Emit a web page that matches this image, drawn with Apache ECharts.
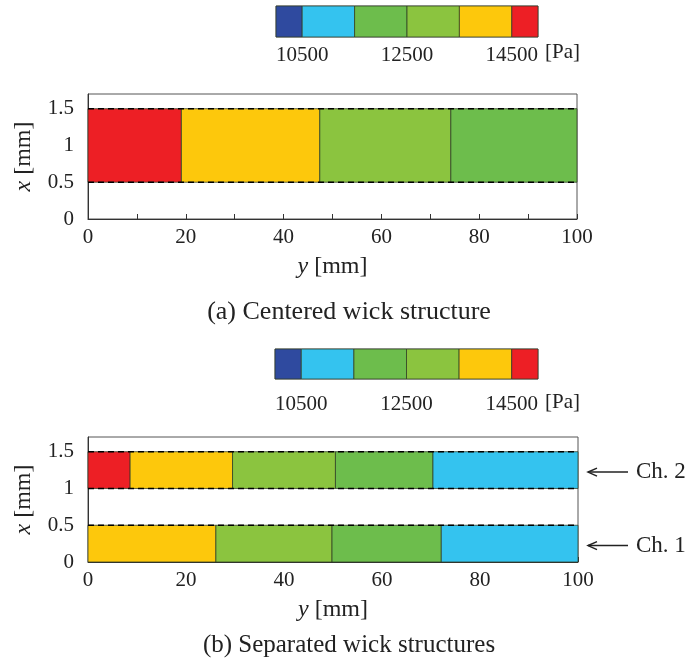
<!DOCTYPE html>
<html>
<head>
<meta charset="utf-8">
<script src="https://cdn.jsdelivr.net/npm/echarts@6/dist/echarts.min.js"></script>
<style>
html,body{margin:0;padding:0;background:#fff;}
#c{width:690px;height:663px;}
</style>
</head>
<body>
<div id="c"></div>
<script>
// ---- data ----
const levelColors = ['#2f4a9f', '#34c3ef', '#6dbd4c', '#8bc43f', '#fdc80c', '#ed1f25'];
const levelEdges = [10000, 10500, 11500, 12500, 13500, 14500, 15000];
const colorbarLabels = [10500, 12500, 14500];

// (a) centered wick: segment boundaries along y [mm] and colour level index
const wickA_range = [0.5, 1.5];
const wickA_edges = [0, 19.1, 47.4, 74.2, 100];
const wickA_levels = [5, 4, 3, 2];
const dashedA = [0.5, 1.5];

// (b) separated wicks
const ch2_range = [1.0, 1.5];
const ch2_edges = [0, 8.6, 29.5, 50.5, 70.4, 100];
const ch2_levels = [5, 4, 3, 2, 1];
const ch1_range = [0, 0.5];
const ch1_edges = [0, 26.1, 49.8, 72.1, 100];
const ch1_levels = [4, 3, 2, 1];
const dashedB = [0.5, 1.0, 1.5];

const yTickLabels = [0, 0.5, 1, 1.5];
const xTickLabels = [0, 20, 40, 60, 80, 100];

// ---- helpers ----
const FONT = 'Liberation Serif';
function segs(edges, levels, range) {
  const out = [];
  for (let i = 0; i < levels.length; i++) {
    out.push([edges[i], edges[i + 1], range[0], range[1], levels[i]]);
  }
  return out;
}
function rectItem(params, api) {
  const x0 = api.value(0), x1 = api.value(1), y0 = api.value(2), y1 = api.value(3);
  const p0 = api.coord([x0, y1]);
  const p1 = api.coord([x1, y0]);
  const col = levelColors[api.value(4)];
  return {
    type: 'rect',
    shape: { x: p0[0], y: p0[1], width: p1[0] - p0[0], height: p1[1] - p0[1] },
    style: { fill: col, stroke: 'rgba(45,60,35,0.75)', lineWidth: 1 }
  };
}
const cbData = [];
for (let i = 0; i < levelColors.length; i++) cbData.push([levelEdges[i], levelEdges[i + 1], 0, 1, i]);

function dashSeries(v, idx) {
  return {
    type: 'line', xAxisIndex: idx, yAxisIndex: idx, symbol: 'none', silent: true,
    data: [[0, v], [100, v]], z: 5,
    lineStyle: { color: '#000', width: 1.6, type: [6, 4] }
  };
}

const plotGrids = [
  { left: 88, width: 489, top: 94, height: 125, show: true, borderColor: '#555', borderWidth: 1 },
  { left: 88, width: 490, top: 437, height: 125, show: true, borderColor: '#555', borderWidth: 1 }
];
const cbGrids = [
  { left: 276, width: 262, top: 6, height: 31, show: true, borderColor: '#777', borderWidth: 1 },
  { left: 275, width: 263, top: 349, height: 30, show: true, borderColor: '#777', borderWidth: 1 }
];

function cbX(idx, margin) {
  return {
    gridIndex: idx, type: 'value', min: 10000, max: 15000,
    axisLine: { show: false }, axisTick: { show: false }, splitLine: { show: false },
    axisLabel: { customValues: colorbarLabels, formatter: v => String(v), fontFamily: FONT, fontSize: 21, color: '#222', margin: margin }
  };
}
function cbY(idx) {
  return { gridIndex: idx, type: 'value', min: 0, max: 1, show: false };
}
const nameStyle = { fontFamily: FONT, fontSize: 24, color: '#222', rich: { i: { fontStyle: 'italic', fontFamily: FONT, fontSize: 24, color: '#222' } } };
function plotX(idx) {
  return {
    gridIndex: idx, type: 'value', min: 0, max: 100, interval: 10,
    name: '{i|y} [mm]', nameLocation: 'middle', nameGap: 36,
    nameTextStyle: nameStyle,
    axisLine: { show: true, lineStyle: { color: '#333', width: 1 } },
    axisTick: { show: true, inside: true, length: 5, lineStyle: { color: '#333' } },
    splitLine: { show: false },
    axisLabel: { customValues: xTickLabels, fontFamily: FONT, fontSize: 21, color: '#222', margin: 8 }
  };
}
function plotY(idx) {
  return {
    gridIndex: idx, type: 'value', min: 0, max: 1.7,
    name: '{i|x} [mm]', nameLocation: 'middle', nameGap: 52, nameRotate: 90,
    nameTextStyle: nameStyle,
    axisLine: { show: true, lineStyle: { color: '#333', width: 1 } },
    axisTick: { show: true, inside: true, length: 5, customValues: yTickLabels, lineStyle: { color: '#333' } },
    splitLine: { show: false },
    axisLabel: { customValues: yTickLabels, fontFamily: FONT, fontSize: 21, color: '#222', margin: 14 }
  };
}

const chart = echarts.init(document.getElementById('c'), null, { renderer: 'canvas' });
const option = {
  animation: false,
  backgroundColor: '#fff',
  grid: [cbGrids[0], plotGrids[0], cbGrids[1], plotGrids[1]],
  xAxis: [cbX(0, 8), plotX(1), cbX(2, 15), plotX(3)],
  yAxis: [cbY(0), plotY(1), cbY(2), plotY(3)],
  series: [
    { type: 'custom', xAxisIndex: 0, yAxisIndex: 0, renderItem: rectItem, data: cbData, silent: true },
    { type: 'custom', xAxisIndex: 1, yAxisIndex: 1, renderItem: rectItem, data: segs(wickA_edges, wickA_levels, wickA_range), silent: true },
    { type: 'custom', xAxisIndex: 2, yAxisIndex: 2, renderItem: rectItem, data: cbData, silent: true },
    { type: 'custom', xAxisIndex: 3, yAxisIndex: 3, renderItem: rectItem, data: segs(ch2_edges, ch2_levels, ch2_range).concat(segs(ch1_edges, ch1_levels, ch1_range)), silent: true }
  ].concat(dashedA.map(v => dashSeries(v, 1))).concat(dashedB.map(v => dashSeries(v, 3)))
};
chart.setOption(option);

// annotations
const graphics = [];
function cbUnit(top) {
  graphics.push({ type: 'text', left: 545, top: top, style: { text: '[Pa]', font: '21px "Liberation Serif"', fill: '#222' } });
}
cbUnit(42);
cbUnit(392);
const ch2Mid = chart.convertToPixel({ xAxisIndex: 3, yAxisIndex: 3 }, [100, (ch2_range[0] + ch2_range[1]) / 2]);
const ch1Mid = chart.convertToPixel({ xAxisIndex: 3, yAxisIndex: 3 }, [100, (ch1_range[0] + ch1_range[1]) / 2]);
function arrow(pt, label) {
  const x0 = pt[0] + 10, x1 = pt[0] + 50, y = pt[1] + 2;
  graphics.push({ type: 'line', shape: { x1: x0, y1: y, x2: x1, y2: y }, style: { stroke: '#222', lineWidth: 1.5 } });
  graphics.push({ type: 'polyline', shape: { points: [[x0 + 9, y - 4], [x0, y], [x0 + 9, y + 4]] }, style: { stroke: '#222', lineWidth: 1.5, fill: null } });
  graphics.push({ type: 'text', x: x1 + 8, y: y, style: { text: label, font: '23px "Liberation Serif"', fill: '#222', verticalAlign: 'middle' } });
}
arrow(ch2Mid, 'Ch. 2');
arrow(ch1Mid, 'Ch. 1');
graphics.push({ type: 'text', x: 349, y: 312, style: { text: '(a) Centered wick structure', font: '26px "Liberation Serif"', fill: '#222', align: 'center', verticalAlign: 'middle' } });
graphics.push({ type: 'text', x: 349, y: 645, style: { text: '(b) Separated wick structures', font: '25px "Liberation Serif"', fill: '#222', align: 'center', verticalAlign: 'middle' } });
chart.setOption({ graphic: graphics });
</script>
</body>
</html>
